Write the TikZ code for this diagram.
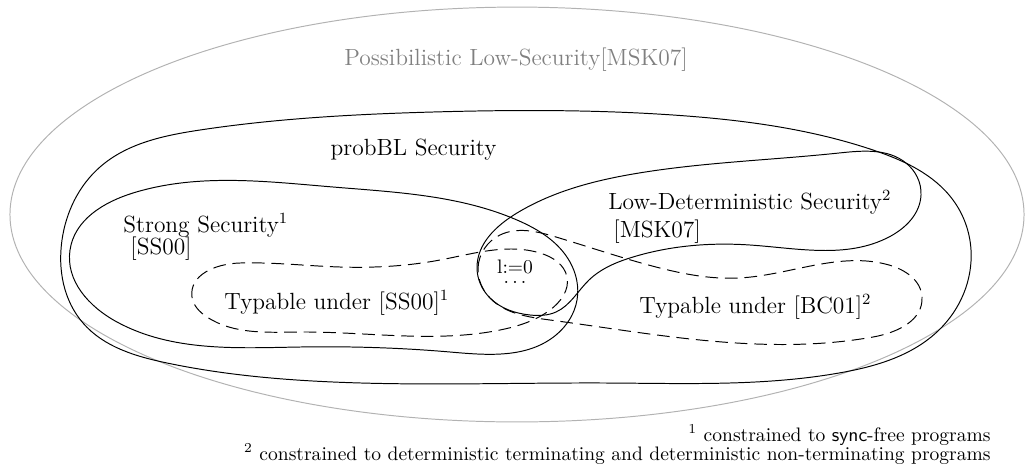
\documentclass[tikz,border=0pt]{standalone}
\usetikzlibrary{hobby}
\begin{document}
\tikzset{
  region/.style={draw=black, line width=0.5pt},
  typable/.style={draw=black, line width=0.5pt, dash pattern=on 6.5pt off 3.5pt},
  lbl/.style={font=\large, inner sep=0pt},
  note/.style={inner sep=0pt},
}
\begin{tikzpicture}[x=0.512pt,y=-0.512pt]
\useasboundingbox (0,0) rectangle (1026,471);
% outer possibilistic region
\draw[black!30, line width=0.5pt] (517,214.5) ellipse [x radius=259.6pt, y radius=106.2pt];
% probBL
\draw[region] plot[closed hobby] coordinates {
  (62,240) (100,167) (200,130) (433,112) (673,115) (873,150) (953,200) (971,250)
  (939,330) (839,373) (606,383) (333,382) (167,363) (83,323)};
% strong security
\draw[region] plot[closed hobby] coordinates {
  (70,250) (133,193) (333,187) (517,220) (570,262) (577,300) (556,335) (450,352)
  (300,347) (117,322)};
% low-deterministic security
\draw[region] plot[closed hobby] coordinates {
  (477,268) (517,213) (639,173) (839,153) (906,163) (921,195) (889,237) (750,245)
  (633,257) (589,280) (556,312) (530,315) (490,298)};
% typable under SS00
\draw[typable] plot[closed hobby] coordinates {
  (192,297) (240,263) (340,267) (440,260) (540,253) (567,277) (550,310) (500,330)
  (300,332) (207,317)};
% typable under BC01
\draw[typable] plot[closed hobby] coordinates {
  (478,268) (500,235) (556,237) (656,267) (739,278) (889,265) (922,297) (873,337)
  (673,337) (550,320) (490,298)};
% labels
\node[lbl, text=black!50, anchor=base] (pls) at (516,65) {Possibilistic Low-Security[MSK07]};
\node[lbl, anchor=base] (pbl) at (413.5,155) {probBL Security};
\node[lbl, anchor=base west] (ss) at (123,232) {Strong Security$^1$};
\node[lbl, anchor=base west] (ssref) at (130,254) {[SS00]};
\node[lbl, anchor=base west] (ld) at (608,209) {Low-Deterministic Security$^2$};
\node[lbl, anchor=base west] (ldref) at (613,237) {[MSK07]};
\node[lbl, anchor=base west] (tss) at (224,309) {Typable under [SS00]$^1$};
\node[lbl, anchor=base west] (tbc) at (639,313) {Typable under [BC01]$^2$};
\node[note, align=center, anchor=base] (asg) at (515,283) {l:=0\\[-6.9pt]$\ldots$};
\node[note, anchor=base east] (fn1) at (991,441) {$^1$ constrained to \textsf{sync}-free programs};
\node[note, anchor=base east] (fn2) at (991,460) {$^2$ constrained to deterministic terminating and deterministic non-terminating programs};
\end{tikzpicture}
\end{document}
